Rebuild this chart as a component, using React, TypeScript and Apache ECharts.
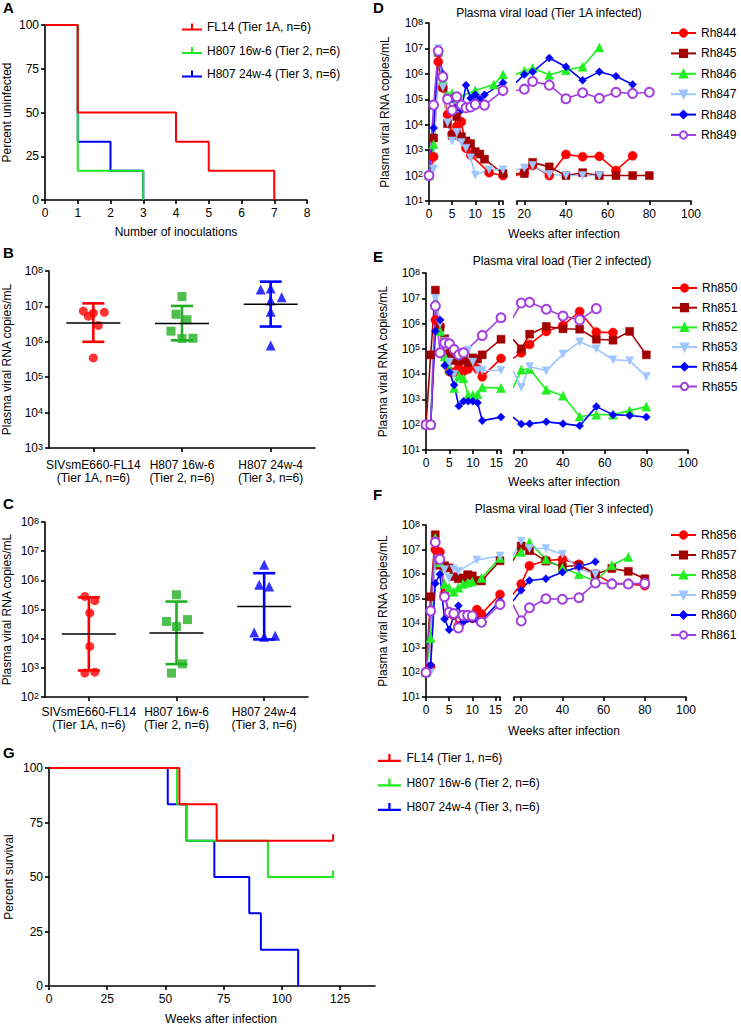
import React, { useEffect, useRef } from "react";
import * as echarts from "echarts";

const FONT = '"Liberation Sans", Arial, Helvetica, sans-serif';

// ---------- Panel A : percent uninfected vs number of inoculations
const aNames = ["FL14 (Tier 1A, n=6)", "H807 16w-6 (Tier 2, n=6)", "H807 24w-4 (Tier 3, n=6)"];
const aFL14 = [[0, 100], [1, 50], [4, 33.33], [5, 16.67], [7, 0]];
const a16w6 = [[0, 100], [1, 16.67], [3, 0]];
const a24w4 = [[0, 100], [1, 33.33], [2, 16.67], [3, 0]];

// ---------- Panels B / C : scatter with geometric mean and SD
const groupLabels = ["SIVsmE660-FL14\n(Tier 1A, n=6)", "H807 16w-6\n(Tier 2, n=6)", "H807 24w-4\n(Tier 3, n=6)"];
const peakFL14 = [7.4e6, 5.3e6, 6.5e6, 6.8e6, 2.9e6, 3.5e5];
const peak16w6 = [1.9e7, 6.0e6, 4.2e6, 2.0e6, 1.24e6, 1.26e6];
const peak24w4 = [3.0e7, 3.2e7, 1.46e7, 1.8e7, 7.1e6, 7.9e5];
// [mean, lower, upper]
const peakSummary = [[3.4e6, 1.0e6, 1.22e7], [3.3e6, 1.1e6, 1.03e7], [1.15e7, 2.7e6, 5.0e7]];
const setFL14 = [2.8e5, 2.0e5, 7.6e4, 5.4e3, 660, 710];
const set16w6 = [3.2e5, 3.9e4, 4.5e4, 2.6e4, 1.37e3, 660];
const set24w4 = [3.4e6, 7.0e5, 6.1e5, 1.64e4, 1.17e4, 1.26e4];
const setSummary = [[1.44e4, 810, 2.6e5], [1.56e4, 1.34e3, 1.87e5], [1.26e5, 9.4e3, 1.76e6]];
const jitterB = [[-10, -5, 0, 11, 5, 0], [0, -6, 5, -11, 0, 11], [-10, 0, 0, 11, 0, 0]];
const jitterC = [[-4, 6, 1, 1, -4, 6], [0, -10, 11, 0, 6, -5], [0, -5, 5, -10, 0, 11]];

// ---------- Panel D : Tier 1A infected
const dNames = ["Rh844", "Rh845", "Rh846", "Rh847", "Rh848", "Rh849"];
const rh844 = [[0, 100], [1, 550], [2, 3.0e6], [3, 2.8e5], [4, 2.5e4], [5, 4.2e3], [6, 8.5e3], [7, 1.3e4], [8, 1.2e3], [9, 650], [13, 130], [16, 100], [20, 130], [24, 250], [32, 100], [40, 680], [48, 550], [56, 570], [64, 160], [72, 600]];
const rh845 = [[0, 100], [1, 3.0e3], [2, 7e6], [3, 3e5], [4, 1.1e4], [5, 3.8e3], [6, 2.1e4], [7, 3.4e3], [8, 2.3e3], [9, 1.8e3], [10, 870], [11, 700], [12, 440], [16, 120], [20, 120], [24, 330], [32, 220], [40, 100], [48, 130], [56, 100], [64, 100], [72, 100], [80, 100]];
const rh846 = [[0, 100], [1, 1.7e3], [2, 8e6], [3, 6e5], [4, 1.5e5], [5, 1.7e5], [6, 1.1e5], [10, 2.2e5], [14, 3.8e5], [16, 9.5e5], [20, 1.3e6], [24, 1.7e6], [32, 9e5], [40, 1.4e6], [48, 1.9e6], [56, 1.1e7]];
const rh847 = [[0, 100], [1, 180], [2, 1e7], [3, 3e5], [4, 1.2e4], [5, 2.3e3], [6, 5e3], [7, 2e3], [8, 1.2e3], [9, 500], [10, 105], [13, 170], [16, 170], [20, 200], [24, 250], [32, 110], [40, 100], [48, 100], [56, 100]];
const rh848 = [[0, 100], [1, 7.5e3], [2, 8e6], [3, 1e6], [4, 1e5], [5, 1.05e5], [6, 4.6e4], [7, 3.8e4], [8, 3.6e5], [9, 1.1e5], [10, 1.5e5], [11, 1e5], [12, 1.5e5], [16, 4.5e5], [20, 9.5e5], [24, 1.2e6], [32, 4.2e6], [40, 1.9e6], [48, 5.6e5], [56, 1.2e6], [64, 8e5], [72, 3.8e5]];
const rh849 = [[0, 100], [1, 6e4], [2, 8e6], [3, 7.6e5], [4, 1e5], [5, 3.7e4], [6, 1.25e5], [7, 6e4], [8, 4.6e4], [9, 5e4], [10, 6.3e4], [12, 5.9e4], [16, 2.2e5], [20, 2.5e5], [24, 5e5], [32, 3.6e5], [40, 1.05e5], [48, 1.8e5], [56, 1.1e5], [64, 1.9e5], [72, 1.7e5], [80, 1.9e5]];

// ---------- Panel E : Tier 2 infected
const eNames = ["Rh850", "Rh851", "Rh852", "Rh853", "Rh854", "Rh855"];
const rh850 = [[0, 100], [1, 100], [2, 1.4e6], [3, 8e5], [4, 5.3e4], [5, 1.25e4], [6, 1.2e4], [7, 1.8e4], [8, 1.3e4], [9, 1.6e4], [10, 2.3e4], [11, 1.6e4], [12, 7.8e3], [16, 4.2e4], [20, 7e4], [24, 1.5e5], [32, 4.9e5], [40, 8.5e5], [48, 3e6], [56, 4.6e5], [64, 4.4e5]];
const rh851 = [[0, 100], [1, 5.8e4], [2, 2.1e7], [3, 7e5], [4, 2.5e5], [5, 6.5e4], [6, 3.5e4], [7, 3.3e4], [8, 3.5e4], [9, 2.8e4], [10, 4.4e4], [11, 4e4], [12, 5.8e4], [16, 2.4e5], [20, 1e5], [24, 3.8e5], [32, 7.7e5], [40, 6.2e5], [48, 6e5], [56, 2.4e5], [64, 2.2e5], [72, 4.9e5], [80, 5.8e4]];
const rh852 = [[0, 100], [1, 100], [2, 8e6], [3, 5e5], [4, 5e4], [5, 1.5e4], [6, 2.8e3], [7, 8.5e3], [8, 6.8e3], [9, 1.5e3], [10, 1.5e3], [11, 1.6e3], [12, 3e3], [16, 2.8e3], [20, 1.5e4], [24, 1.6e4], [32, 2.4e3], [40, 1.4e3], [48, 210], [56, 250], [64, 250], [72, 360], [80, 520]];
const rh853 = [[0, 100], [1, 100], [2, 1e7], [3, 1e6], [4, 2e5], [5, 3e4], [6, 1e4], [7, 5e4], [8, 7.5e4], [9, 9e4], [10, 3e4], [11, 1.4e4], [12, 1.4e4], [16, 1.4e4], [20, 3e3], [24, 2e4], [32, 1.35e4], [40, 6.2e4], [48, 1.9e5], [56, 1e5], [64, 3.7e4], [72, 3.4e4], [80, 8e3]];
const rh854 = [[0, 100], [1, 100], [2, 5e5], [3, 1.4e6], [4, 2.2e4], [5, 1.2e4], [6, 3.7e3], [7, 550], [8, 850], [9, 850], [10, 850], [11, 740], [12, 145], [16, 200], [20, 107], [24, 110], [32, 130], [40, 110], [48, 90], [56, 520], [64, 250], [72, 230], [80, 200]];
const rh855 = [[0, 100], [1, 100], [2, 5e6], [3, 7e4], [4, 1.7e5], [5, 1.6e5], [6, 9.5e4], [7, 5.8e4], [8, 7e4], [12, 3.4e5], [16, 1.7e6], [20, 6.5e6], [24, 7e6], [32, 3.7e6], [40, 2e6], [48, 1.4e6], [56, 3.9e6]];

// ---------- Panel F : Tier 3 infected
const fNames = ["Rh856", "Rh857", "Rh858", "Rh859", "Rh860", "Rh861"];
const rh856 = [[0, 100], [1, 170], [2, 1e7], [3, 8e6], [4, 1.6e5], [5, 2.5e4], [6, 2.1e4], [7, 8e3], [8, 1.8e4], [9, 1.8e4], [10, 1.6e4], [11, 3.6e4], [12, 2.4e4], [16, 1.5e5], [20, 4e5], [24, 2.2e6], [32, 3.6e6], [40, 4e6], [48, 2.5e6], [56, 1e6], [64, 4.2e5], [72, 4e5], [80, 3.4e5]];
const rh857 = [[0, 100], [1, 1.2e5], [2, 4e7], [3, 2.3e6], [4, 2.2e6], [5, 1.8e6], [6, 8e5], [7, 6.5e5], [8, 7e5], [9, 9.5e5], [10, 8.5e5], [11, 5.6e5], [12, 5.3e5], [16, 3.5e6], [20, 1.4e7], [24, 9e6], [32, 3.4e6], [40, 2e6], [48, 2.3e6], [56, 1e6], [64, 1.7e6], [72, 1.3e6], [80, 6.5e5]];
const rh858 = [[0, 100], [1, 2.5e3], [2, 3e7], [3, 3e6], [4, 4e5], [5, 2.8e5], [6, 1.9e5], [7, 2.8e5], [8, 4e5], [9, 4.5e5], [10, 5e5], [12, 7e5], [16, 4.5e6], [20, 8e6], [24, 2e7], [32, 4e6], [40, 1.8e6], [48, 1e6], [56, 5e5], [64, 2.3e6], [72, 5e6]];
const rh859 = [[0, 100], [1, 100], [2, 2e7], [3, 3e6], [4, 1.5e6], [5, 7e5], [6, 1.6e6], [7, 1.3e6], [11, 3.8e6], [16, 5.5e6], [20, 2.2e7], [24, 1.1e7], [32, 1.1e7], [40, 6.5e6], [48, 1.6e6], [56, 1e6]];
const rh860 = [[0, 100], [1, 200], [2, 4.2e5], [3, 1e6], [4, 1.5e4], [5, 5.5e3], [6, 2e4], [7, 5.2e4], [8, 1.1e4], [9, 1.5e4], [10, 1.5e4], [11, 1.4e4], [12, 1.3e4], [16, 8e4], [20, 2.2e5], [24, 5.5e5], [32, 6.5e5], [40, 1.2e6], [48, 2e6], [56, 3.2e6]];
const rh861 = [[0, 100], [1, 3.2e4], [2, 2e7], [3, 4e6], [4, 1.2e5], [5, 2.8e4], [6, 2.5e4], [7, 6.5e3], [8, 2.1e4], [9, 2.1e4], [10, 2e4], [12, 1.1e4], [16, 5.8e4], [20, 1.25e4], [24, 4.3e4], [32, 1e5], [40, 9.5e4], [48, 1.1e5], [56, 4.4e5], [64, 4e5], [72, 4e5], [80, 4.2e5]];

// ---------- Panel G : survival
const gNames = ["FL14 (Tier 1, n=6)", "H807 16w-6 (Tier 2, n=6)", "H807 24w-4 (Tier 3, n=6)"];
const gFL14 = [[0, 100], [56, 83.33], [72, 66.67], [122, 66.67]];
const g16w6 = [[0, 100], [55, 83.33], [59, 66.67], [94, 50], [122, 50]];
const g24w4 = [[0, 100], [51, 83.33], [59, 66.67], [71, 50], [86, 33.33], [91, 16.67], [107, 0]];
const gXTicks = [0, 25, 50, 75, 100, 125];

// ---------- styles
const RED = "#ff0000";
const KM_GREEN = "#1ee81e";
const BLUE = "#0000ff";
const GROUP_GREEN = "#22b022";
const animalColors = ["#ff0000", "#a30000", "#22ee22", "#9cc6ff", "#0000ff", "#a33ee0"];
const animalSymbols = ["circle", "rect", "triangle", "path://M0,0L10,0L5,9Z", "diamond", "emptyCircle"];
const animalSizes = [9, 8, 9, 8, 8, 9];
const KM_ICON = "path://M0,5L20,5L20,7L0,7Z M9,0L11,0L11,5L9,5Z";

const AX = { color: "#000", width: 1.6 };
const txt = { color: "#000", fontFamily: FONT, fontSize: 12 };

const logLabel = {
  color: "#000",
  margin: 6,
  formatter: (v: number) => `{b|10}{s|${Math.round(Math.log10(v))}}`,
  rich: {
    b: { fontSize: 12, lineHeight: 12, verticalAlign: "bottom", fontFamily: FONT, color: "#000" },
    s: { fontSize: 9, lineHeight: 9, verticalAlign: "top", padding: [0, 0, 9, 0], fontFamily: FONT, color: "#000" },
  },
};

function baseAxis(extra: any) {
  return {
    axisLine: { show: true, onZero: false, lineStyle: AX },
    axisTick: { show: true, length: 4, lineStyle: AX, ...(extra.tick || {}) },
    axisLabel: { ...txt, margin: 6, ...(extra.label || {}) },
    splitLine: { show: false },
    nameTextStyle: { ...txt },
    ...(extra.rest || {}),
  };
}

function yLog(grid: number, min: number, show: boolean, nameGap = 37) {
  return {
    type: "log",
    gridIndex: grid,
    logBase: 10,
    min,
    max: 1e8,
    interval: 1,
    show,
    axisLine: { show: true, onZero: false, lineStyle: AX },
    axisTick: { show: true, length: 4, lineStyle: AX },
    axisLabel: logLabel,
    splitLine: { show: false },
    minorTick: { show: false },
    name: show ? "Plasma viral RNA copies/mL" : "",
    nameLocation: "middle",
    nameGap,
    nameTextStyle: { ...txt },
  };
}

function xSeg1(grid: number) {
  return {
    type: "value",
    gridIndex: grid,
    min: 0,
    max: 16,
    ...baseAxis({
      label: { margin: 7, customValues: [0, 5, 10, 15] },
      tick: { customValues: [0, 5, 10, 15, 16] },
    }),
  };
}
function xSeg2(grid: number) {
  return {
    type: "value",
    gridIndex: grid,
    min: 16.5,
    max: 100,
    ...baseAxis({
      label: { margin: 7, customValues: [20, 40, 60, 80, 100] },
      tick: { customValues: [16.5, 20, 40, 60, 80, 100] },
    }),
  };
}

function animalSeries(names: string[], sets: number[][][], g1: number, g2: number) {
  const out: any[] = [];
  names.forEach((name, i) => {
    const c = animalColors[i];
    const base = {
      type: "line",
      name,
      symbol: animalSymbols[i],
      symbolSize: animalSizes[i],
      lineStyle: { color: c, width: 1.6 },
      itemStyle: { color: c, borderColor: c, borderWidth: animalSymbols[i] === "emptyCircle" ? 2 : 0.5 },
      emphasis: { disabled: true },
    };
    out.push({ ...base, xAxisIndex: g1, yAxisIndex: g1, clip: false, data: sets[i].filter((p) => p[0] <= 16) });
    out.push({ ...base, xAxisIndex: g2, yAxisIndex: g2, clip: true, data: sets[i].filter((p) => p[0] >= 16) });
  });
  return out;
}

function kmSeries(name: string, pts: number[][], color: string, grid: number, censored: boolean) {
  return {
    type: "line",
    name,
    step: "end",
    xAxisIndex: grid,
    yAxisIndex: grid,
    symbol: "none",
    showSymbol: true,
    lineStyle: { color, width: 2 },
    itemStyle: { color },
    emphasis: { disabled: true },
    data: pts.map((p, j) =>
      censored && j === pts.length - 1
        ? { value: p, symbol: "rect", symbolSize: [2, 7], symbolOffset: [0, -3] }
        : { value: p }
    ),
  };
}

const groupColors = [RED, GROUP_GREEN, BLUE];
const groupSymbols = ["circle", "rect", "triangle"];
const groupSizes = [9, 9, 10];

function dotSeries(grid: number, groups: number[][], jitter: number[][]) {
  return groups.map((vals, gi) => ({
    type: "scatter",
    xAxisIndex: grid,
    yAxisIndex: grid,
    symbol: groupSymbols[gi],
    symbolSize: groupSizes[gi],
    itemStyle: { color: groupColors[gi] },
    emphasis: { disabled: true },
    data: vals.map((v, j) => ({ value: [gi, v], symbolOffset: [jitter[gi][j], 0] })),
  }));
}

function errSeries(grid: number, summary: number[][]) {
  return {
    type: "custom",
    xAxisIndex: grid,
    yAxisIndex: grid,
    z: 4,
    data: summary.map((s, i) => [i, s[0], s[1], s[2]]),
    renderItem: (params: any, api: any) => {
      const x = api.value(0);
      const m = api.coord([x, api.value(1)]);
      const lo = api.coord([x, api.value(2)]);
      const hi = api.coord([x, api.value(3)]);
      const c = groupColors[params.dataIndex];
      const st = { stroke: c, lineWidth: 2.6 };
      return {
        type: "group",
        children: [
          { type: "line", shape: { x1: lo[0], y1: lo[1], x2: hi[0], y2: hi[1] }, style: st },
          { type: "line", shape: { x1: lo[0] - 11, y1: lo[1], x2: lo[0] + 11, y2: lo[1] }, style: st },
          { type: "line", shape: { x1: hi[0] - 11, y1: hi[1], x2: hi[0] + 11, y2: hi[1] }, style: st },
          { type: "line", shape: { x1: m[0] - 27, y1: m[1], x2: m[0] + 27, y2: m[1] }, style: { stroke: "#000", lineWidth: 1.6 } },
        ],
      };
    },
  };
}

function catAxis(grid: number, margin: number) {
  return {
    type: "category",
    gridIndex: grid,
    data: groupLabels,
    ...baseAxis({
      label: { margin, lineHeight: 13, interval: 0 },
      tick: { alignWithLabel: true },
    }),
  };
}

function title(text: string, left: number, top: number, bold = false, center = false) {
  return {
    text,
    left,
    top,
    padding: 0,
    ...(center ? { textAlign: "center" } : {}),
    textStyle: { color: "#000", fontFamily: FONT, fontSize: bold ? 15 : 12, fontWeight: bold ? "bold" : "normal" },
  };
}

function buildOption() {
  const grids = [
    { left: 45, top: 25, width: 262, height: 175 }, // A
    { left: 49, top: 271, width: 266, height: 177 }, // B
    { left: 45, top: 522, width: 263, height: 175 }, // C
    { left: 429, top: 23, width: 74, height: 178 }, // D1
    { left: 517, top: 23, width: 174, height: 178 }, // D2
    { left: 426, top: 273, width: 75, height: 177 }, // E1
    { left: 514, top: 273, width: 174, height: 177 }, // E2
    { left: 426, top: 525, width: 74, height: 172 }, // F1
    { left: 514, top: 525, width: 172, height: 172 }, // F2
    { left: 49, top: 768, width: 326, height: 218 }, // G
  ].map((g) => ({ ...g, containLabel: false, outerBoundsMode: "none" }));

  const xAxis: any[] = [
    {
      type: "value", gridIndex: 0, min: 0, max: 8, interval: 1,
      name: "Number of inoculations", nameLocation: "middle", nameGap: 26,
      ...baseAxis({ label: { margin: 7 } }),
    },
    catAxis(1, 10),
    catAxis(2, 8),
    xSeg1(3), xSeg2(4), xSeg1(5), xSeg2(6), xSeg1(7), xSeg2(8),
    {
      type: "value", gridIndex: 9, min: 0, max: 140,
      ...baseAxis({ label: { margin: 7, customValues: gXTicks }, tick: { customValues: gXTicks } }),
    },
  ];

  const yAxis: any[] = [
    {
      type: "value", gridIndex: 0, min: 0, max: 100, interval: 25,
      name: "Percent uninfected", nameLocation: "middle", nameGap: 32,
      ...baseAxis({}),
    },
    yLog(1, 1e3, true, 36),
    yLog(2, 1e2, true, 32),
    yLog(3, 10, true, 38),
    yLog(4, 10, false),
    yLog(5, 10, true, 37),
    yLog(6, 10, false),
    yLog(7, 10, true, 37),
    yLog(8, 10, false),
    {
      type: "value", gridIndex: 9, min: 0, max: 100, interval: 25,
      name: "Percent survival", nameLocation: "middle", nameGap: 34,
      ...baseAxis({}),
    },
  ];

  const series: any[] = [
    kmSeries(aNames[2], a24w4, BLUE, 0, false),
    kmSeries(aNames[1], a16w6, KM_GREEN, 0, false),
    kmSeries(aNames[0], aFL14, RED, 0, false),
    ...dotSeries(1, [peakFL14, peak16w6, peak24w4], jitterB),
    errSeries(1, peakSummary),
    ...dotSeries(2, [setFL14, set16w6, set24w4], jitterC),
    errSeries(2, setSummary),
    ...animalSeries(dNames, [rh844, rh845, rh846, rh847, rh848, rh849], 3, 4),
    ...animalSeries(eNames, [rh850, rh851, rh852, rh853, rh854, rh855], 5, 6),
    ...animalSeries(fNames, [rh856, rh857, rh858, rh859, rh860, rh861], 7, 8),
    kmSeries(gNames[2], g24w4, BLUE, 9, false),
    kmSeries(gNames[1] + " ", g16w6, KM_GREEN, 9, true),
    kmSeries(gNames[0], gFL14, RED, 9, true),
  ];

  const legBase = {
    orient: "vertical",
    selectedMode: false,
    padding: 0,
    textStyle: { ...txt, lineHeight: 14 },
  };

  const legend = [
    { ...legBase, left: 182, top: 20, itemWidth: 20, itemHeight: 7, itemGap: 9.5, icon: KM_ICON, data: aNames },
    { ...legBase, left: 670, top: 26, itemWidth: 25, itemHeight: 9, itemGap: 6.4, data: dNames },
    { ...legBase, left: 671, top: 281, itemWidth: 25, itemHeight: 9, itemGap: 5.7, data: eNames },
    { ...legBase, left: 670, top: 528, itemWidth: 25, itemHeight: 9, itemGap: 6, data: fNames },
    {
      ...legBase, left: 378, top: 751, itemWidth: 24, itemHeight: 8, itemGap: 10.5, icon: KM_ICON,
      data: [gNames[0], gNames[1] + " ", gNames[2]],
      formatter: (n: string) => n.trim(),
    },
  ];

  const titles = [
    title("A", 3, 0, true),
    title("B", 3, 245, true),
    title("C", 3, 496, true),
    title("D", 373, 0, true),
    title("E", 373, 249, true),
    title("F", 373, 487, true),
    title("G", 3, 745, true),
    title("Plasma viral load (Tier 1A infected)", 549, 7, false, true),
    title("Plasma viral load (Tier 2 infected)", 562, 255, false, true),
    title("Plasma viral load (Tier 3 infected)", 564, 503, false, true),
    title("Weeks after infection", 564, 228, false, true),
    title("Weeks after infection", 564, 476, false, true),
    title("Weeks after infection", 564, 725, false, true),
    title("Weeks after infection", 221, 1013, false, true),
  ];

  return {
    animation: false,
    backgroundColor: "#fff",
    textStyle: { fontFamily: FONT, color: "#000" },
    title: titles,
    legend,
    grid: grids,
    xAxis,
    yAxis,
    series,
    tooltip: { show: false },
  };
}

export default function App() {
  const ref = useRef<HTMLDivElement>(null);
  useEffect(() => {
    document.body.style.margin = "0";
    const chart = echarts.init(ref.current as HTMLDivElement, null, { renderer: "svg" });
    chart.setOption(buildOption() as any);
    return () => chart.dispose();
  }, []);
  return <div ref={ref} style={{ width: 741, height: 1025, background: "#fff" }} />;
}
